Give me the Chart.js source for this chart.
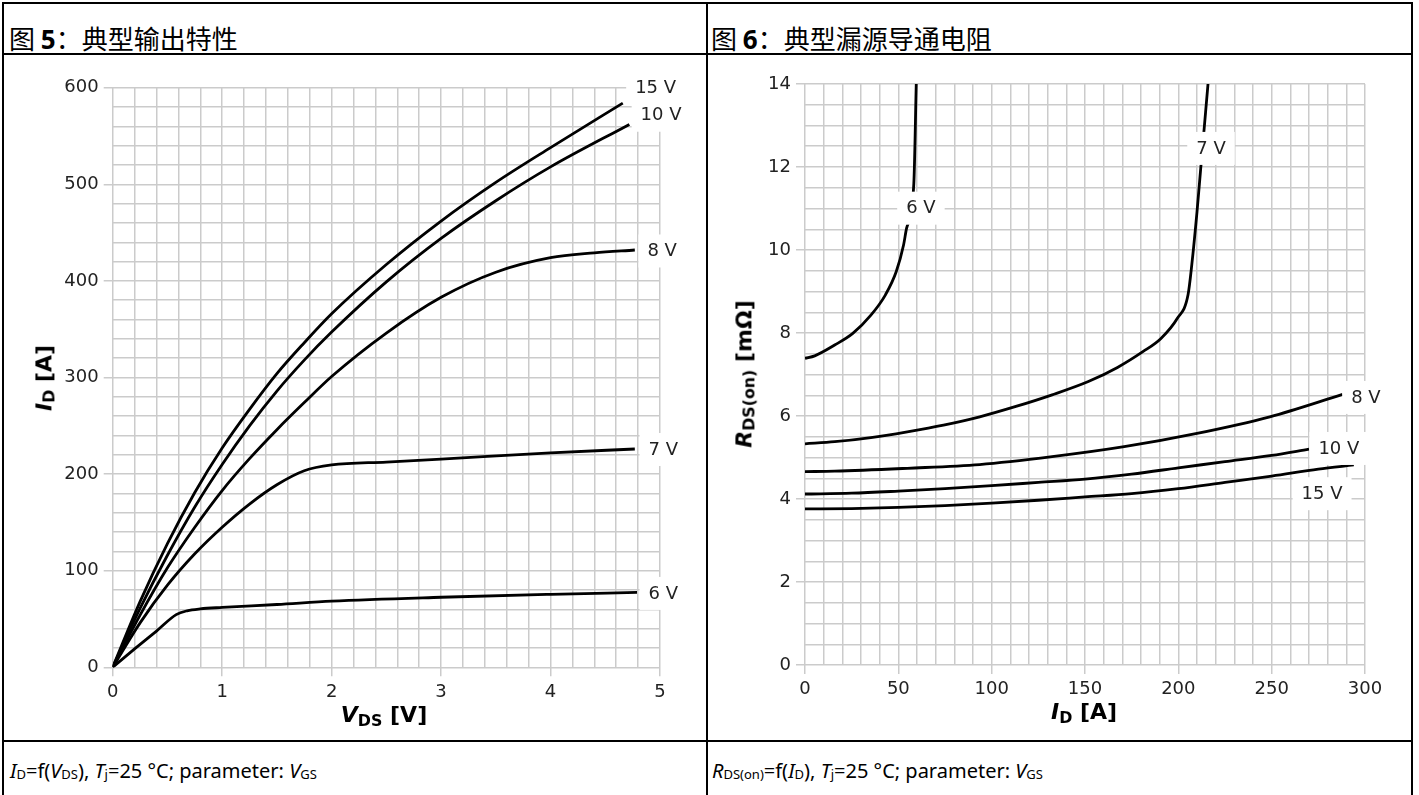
<!DOCTYPE html>
<html>
<head>
<meta charset="utf-8">
<script src="https://cdn.jsdelivr.net/npm/chart.js@4.4.0/dist/chart.umd.min.js"></script>
<style>
body { margin:0; width:1419px; height:795px; overflow:hidden; background:#fff; position:relative; }
.line { position:absolute; background:#000; z-index:5; }
.ttl { position:absolute; font-family:"Noto Sans CJK SC"; font-size:26px; line-height:26px; color:#000; white-space:nowrap; }
.ttl b { font-family:"Noto Sans"; font-weight:bold; }
.foot { position:absolute; font-family:"Noto Sans"; font-size:20px; line-height:20px; color:#000; white-space:nowrap; }
.foot sub { font-size:0.65em; vertical-align:-0.1em; }
.axt { position:absolute; font-family:"DejaVu Sans"; font-weight:bold; font-size:22px; line-height:22px; color:#000; white-space:nowrap; transform:translate(-50%,-50%); }
.axt.rot { transform:translate(-50%,-50%) rotate(-90deg); }
.axt sub { font-size:0.72em; vertical-align:-0.2em; }
.box { position:absolute; }
</style>
</head>
<body>

<!-- table frame -->
<div class="line" style="left:2px;top:2px;width:1411px;height:2px"></div>
<div class="line" style="left:2px;top:2px;width:2px;height:800px"></div>
<div class="line" style="left:1411px;top:2px;width:2px;height:800px"></div>
<div class="line" style="left:706px;top:2px;width:2px;height:800px"></div>
<div class="line" style="left:2px;top:53px;width:1411px;height:2px"></div>
<div class="line" style="left:2px;top:740px;width:1411px;height:2px"></div>

<div class="ttl" style="left:9px;top:25px">图 <b>5</b>：典型输出特性</div>
<div class="ttl" style="left:711px;top:25px">图 <b>6</b>：典型漏源导通电阻</div>

<div class="box" style="left:0;top:55px;width:705px;height:685px"><canvas id="outChart"></canvas></div>
<div class="box" style="left:708px;top:55px;width:703px;height:685px"><canvas id="rdsChart"></canvas></div>

<div class="axt" style="left:384px;top:718px"><i>V</i><sub>DS</sub> [V]</div>
<div class="axt rot" style="left:47px;top:378px"><i>I</i><sub>D</sub> [A]</div>
<div class="axt" style="left:1084px;top:715px"><i>I</i><sub>D</sub> [A]</div>
<div class="axt rot" style="left:747px;top:374px"><i>R</i><sub>DS(on)</sub> [mΩ]</div>

<div class="foot" style="left:10px;top:761px"><i>I</i><sub>D</sub>=f(<i>V</i><sub>DS</sub>), <i>T</i><sub>j</sub>=25 °C; parameter: <i>V</i><sub>GS</sub></div>
<div class="foot" style="left:712px;top:761px"><i>R</i><sub>DS(on)</sub>=f(<i>I</i><sub>D</sub>), <i>T</i><sub>j</sub>=25 °C; parameter: <i>V</i><sub>GS</sub></div>

<script>
// ---- fig 5: output characteristics, ID vs VDS ----
const vds15 = [0, 0.25, 0.5, 0.75, 1, 1.25, 1.5, 1.75, 2, 2.5, 3, 3.5, 4, 4.66];
const id15  = [0, 68, 128, 181, 227, 267, 304, 336, 366, 417, 462, 502, 538, 584];
const vds10 = [0, 0.25, 0.5, 0.75, 1, 1.25, 1.5, 1.75, 2, 2.5, 3, 3.5, 4, 4.72];
const id10  = [0, 61, 116, 166, 210, 250, 286, 318, 347, 399, 444, 483, 518, 562];
const vds8  = [0, 0.25, 0.5, 0.75, 1, 1.25, 1.5, 1.75, 2, 2.5, 3, 3.5, 4, 4.4, 4.77];
const id8   = [0, 54, 103, 145, 183, 216, 246, 274, 301, 346, 383, 409, 424, 429, 432];
const vds7  = [0, 0.25, 0.5, 0.75, 1, 1.25, 1.5, 1.75, 2, 2.5, 3, 4, 4.77];
const id7   = [0, 46, 85, 117.5, 145, 169, 189, 203.5, 209.5, 212.5, 215.5, 222, 226];
const vds6  = [0, 0.2, 0.4, 0.58, 0.68, 0.8, 1.0, 1.5, 2, 3, 4, 4.79];
const id6   = [0, 19, 37.5, 54.5, 58.5, 60.5, 62, 65, 68.5, 72.5, 75.5, 77.5];

// ---- fig 6: RDS(on) vs ID ----
const idR6  = [0, 5.2, 15.9, 25.6, 35.3, 43.1, 48.9, 52.8, 54.4, 58.3, 59.6];
const rds6  = [7.39, 7.45, 7.71, 7.99, 8.43, 8.92, 9.48, 10.12, 10.52, 11.6, 14];
const idR7  = [0, 15.9, 35.3, 54.8, 74.2, 93.6, 113, 132.4, 151.8, 167.4, 181, 190.7, 199.4, 205.2, 207.2, 210, 212, 215.9];
const rds7  = [5.33, 5.38, 5.48, 5.62, 5.78, 5.98, 6.23, 6.51, 6.83, 7.17, 7.55, 7.87, 8.35, 8.92, 9.64, 10.92, 11.97, 14];
const idR8  = [0, 15.9, 54.8, 93.6, 132.4, 171, 210, 249, 288];
const rds8  = [4.66, 4.67, 4.74, 4.83, 5.02, 5.26, 5.58, 5.98, 6.52];
const idR10 = [0, 25, 50, 75, 100, 125, 150, 175, 200, 225, 250, 270];
const rds10 = [4.12, 4.14, 4.19, 4.25, 4.32, 4.40, 4.48, 4.60, 4.75, 4.90, 5.05, 5.20];
const idR15 = [0, 25, 50, 75, 100, 125, 150, 175, 200, 225, 250, 275, 294];
const rds15 = [3.76, 3.77, 3.80, 3.84, 3.90, 3.97, 4.05, 4.13, 4.25, 4.40, 4.55, 4.72, 4.82];

function pts(xs, ys) {
    return xs.map((v, i) => ({ x: v, y: ys[i] }));
}

function curve(label, xs, ys, at) {
    return {
        label: label,
        data: pts(xs, ys),
        showLine: true,
        borderColor: '#000',
        borderWidth: 2.8,
        pointRadius: 0,
        cubicInterpolationMode: 'monotone',
        labelAt: at
    };
}

// white-boxed inline labels, drawn over the curves like the datasheet
const curveLabels = {
    id: 'curveLabels',
    afterDatasetsDraw(chart) {
        const ctx = chart.ctx;
        const x = chart.scales.x, y = chart.scales.y;
        ctx.save();
        ctx.font = '18px "DejaVu Sans"';
        ctx.textAlign = 'center';
        ctx.textBaseline = 'middle';
        chart.data.datasets.forEach(ds => {
            const px = x.getPixelForValue(ds.labelAt[0]);
            const py = y.getPixelForValue(ds.labelAt[1]);
            const w = ctx.measureText(ds.label).width + 18;
            ctx.fillStyle = '#fff';
            ctx.fillRect(px - w / 2, py - 16, w, 33);
            ctx.fillStyle = '#222';
            ctx.fillText(ds.label, px, py + 1);
        });
        ctx.restore();
    }
};

const gridCol = '#cbcbcb';

function axis(min, max, step, isMajor, fmt, fitSize, horizontal) {
    return {
        type: 'linear',
        min: min,
        max: max,
        border: { display: false },
        grid: {
            color: gridCol,
            lineWidth: 1.5,
            tickLength: 9,
            tickWidth: 1.5,
            tickColor: c => (c.tick && isMajor(c.tick.value)) ? gridCol : 'rgba(0,0,0,0)'
        },
        ticks: {
            stepSize: step,
            autoSkip: false,
            maxTicksLimit: 1000,
            maxRotation: 0,
            padding: 5,
            color: '#222',
            font: { family: 'DejaVu Sans', size: 18 },
            callback: v => isMajor(v) ? fmt(v) : ''
        },
        afterFit: s => {
            if (horizontal) s.height = fitSize; else s.width = fitSize;
        }
    };
}

const near = (v, m) => Math.abs(v / m - Math.round(v / m)) < 1e-6;

new Chart(document.getElementById('outChart'), {
    type: 'scatter',
    data: {
        datasets: [
            curve('15 V', vds15, id15, [4.96, 600]),
            curve('10 V', vds10, id10, [5.01, 572]),
            curve('8 V', vds8, id8, [5.02, 431.5]),
            curve('7 V', vds7, id7, [5.03, 226]),
            curve('6 V', vds6, id6, [5.03, 77])
        ]
    },
    options: {
        responsive: true,
        maintainAspectRatio: false,
        animation: false,
        layout: { padding: { left: 0, right: 45, top: 32.7, bottom: 0 } },
        plugins: { legend: { display: false }, tooltip: { enabled: false } },
        scales: {
            x: axis(0, 5, 0.2, v => near(v, 1), v => String(Math.round(v)), 72.7, true),
            y: axis(0, 600, 20, v => near(v, 100), v => String(Math.round(v)), 112.7, false)
        }
    },
    plugins: [curveLabels]
});

new Chart(document.getElementById('rdsChart'), {
    type: 'scatter',
    data: {
        datasets: [
            curve('6 V', idR6, rds6, [62.1, 11.02]),
            curve('7 V', idR7, rds7, [217.5, 12.46]),
            curve('8 V', idR8, rds8, [300.5, 6.46]),
            curve('10 V', idR10, rds10, [286, 5.23]),
            curve('15 V', idR15, rds15, [277, 4.14])
        ]
    },
    options: {
        responsive: true,
        maintainAspectRatio: false,
        animation: false,
        layout: { padding: { left: 0, right: 46, top: 29, bottom: 0 } },
        plugins: { legend: { display: false }, tooltip: { enabled: false } },
        scales: {
            x: axis(0, 300, 10, v => near(v, 50), v => String(Math.round(v)), 75, true),
            y: axis(0, 14, 0.5, v => near(v, 2), v => String(Math.round(v)), 97, false)
        }
    },
    plugins: [curveLabels]
});
</script>
</body>
</html>
